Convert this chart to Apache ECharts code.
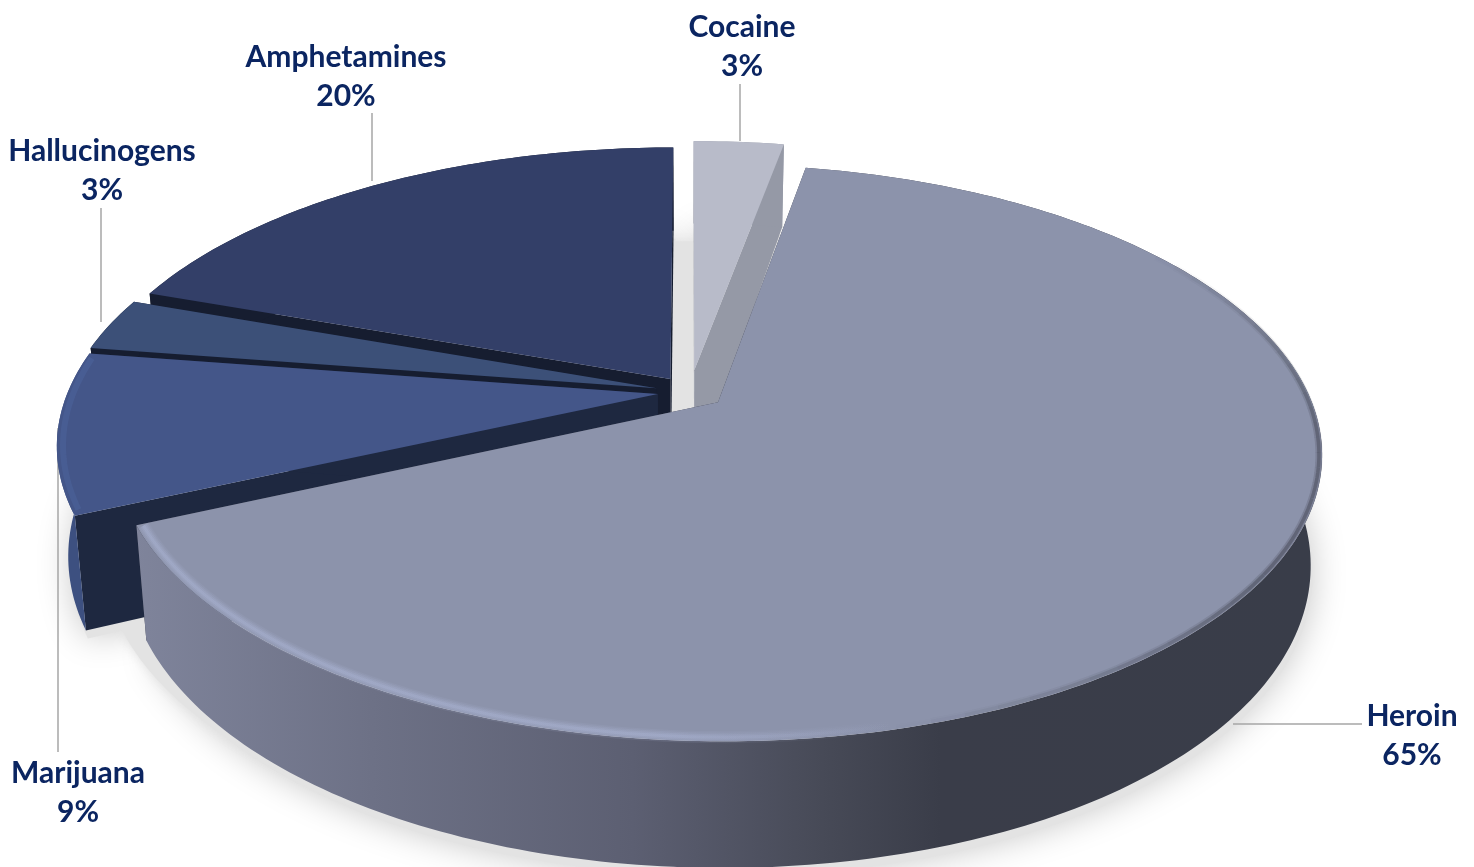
<!DOCTYPE html>
<html><head><meta charset="utf-8">
<style>html,body{margin:0;padding:0;background:#fff}#c{width:1474px;height:867px}</style>
<script src="https://cdn.jsdelivr.net/npm/echarts@6/dist/echarts.min.js"></script>
</head><body><div id="c"></div>
<script>
const categories = ['Cocaine','Heroin','Marijuana','Hallucinogens','Amphetamines'];
const values = [2.9,65.4,9.1,3,19.6];

// styling / layout (not data)
const topColors  = ['#b8bbc9','#8c93ab','#445689','#3c5078','#333f68'];
const cutColors  = ['#9599a6','#3a3d4a','#1e2840','#161d30','#161d30'];
const wallColors = ['#9599a6',null,'#3d5080','#161d30','#161d30'];
const explode    = [0.08,0.06,0.055,0.058,0.058];
const drawOrder  = [3,4,2,1,0];
const labelLayout = [
  {x:742,y:47,line:[[740,84],[740,141]]},
  {x:1412,y:736,line:[[1233,724],[1362,724]]},
  {x:78,y:793,line:[[58,428],[58,752]]},
  {x:102,y:171,line:[[101,208],[101,322]]},
  {x:346,y:77,line:[[372,113],[372,181]]}
];
const P = {cx:690,cy:392,R:590,b:276,k:0.174,s:0.018,dz0:106,dz1:26};
const total = values.reduce((a,b)=>a+b,0);
const starts = []; values.reduce((acc,v,i)=>{starts[i]=acc;return acc+v/total*360;},0);

function proj(x,y,z){
  const d=1-P.k*y, s=1-z*P.s;
  return [P.cx+s*P.R*x/d, P.cy+s*P.b*y/d+z*(P.dz0+P.dz1*y)];
}
const rad=a=>a*Math.PI/180;
function arc(off,a0,a1,z,r){
  const pts=[], n=Math.max(2,Math.ceil(Math.abs(a1-a0)));
  for(let i=0;i<=n;i++){
    const a=rad(a0+(a1-a0)*i/n);
    pts.push(proj(off[0]+r*Math.sin(a),off[1]-r*Math.cos(a),z));
  }
  return pts;
}
const heroinWall={type:'linear',x:135,y:0,x2:1320,y2:0,global:true,colorStops:[
  {offset:0,color:'#7f849b'},{offset:0.2,color:'#6d7186'},{offset:0.42,color:'#5c5f72'},
  {offset:0.58,color:'#474a57'},{offset:0.68,color:'#3a3d49'},{offset:1,color:'#393d49'}]};
const lightRim={type:'linear',x:135,y:0,x2:1320,y2:0,global:true,colorStops:[
  {offset:0,color:'rgba(169,178,210,1)'},{offset:0.45,color:'rgba(169,178,210,1)'},
  {offset:0.64,color:'rgba(169,178,210,0)'},{offset:1,color:'rgba(169,178,210,0)'}]};
const darkAlpha=a=>a<55?0:a<95?(a-55)/40:a<125?1:a<165?(165-a)/40:0;

function renderSlice(params,api){
  const i=params.dataIndex, v=api.value(0), a0=starts[i], a1=a0+v/total*360, mid=rad((a0+a1)/2);
  const d=explode[i], off=[d*Math.sin(mid),-d*Math.cos(mid)];
  const base=10+drawOrder[i]*10, kids=[];
  const poly=(points,fill,z2,extra)=>kids.push({type:'polygon',silent:true,z2,shape:{points},style:Object.assign({fill},extra||{})});
  const stroke=(points,color,w,op,z2)=>kids.push({type:'polyline',silent:true,z2,shape:{points},style:{stroke:color,lineWidth:w,fill:null,opacity:op,lineJoin:'round',lineCap:'butt'}});
  // ground shadow
  const sh=[proj(off[0],off[1],1)].concat(arc(off,a0,a1,1,1.0)).map(p=>[p[0]+2,p[1]+8]);
  poly(sh,'#e3e3e3',1,{shadowBlur:34,shadowColor:'#c9c9c9'});
  if(i===1){ poly(arc([0,0],0,360,1,1),'#e3e3e3',2,{shadowBlur:10,shadowColor:'#e3e3e3'}); }
  // cut faces
  const edge=(a)=>{
    const e0=arc(off,a,a,0,1)[0], e1=arc(off,a,a,1,1)[0];
    return [proj(off[0],off[1],0),e0,e1,proj(off[0],off[1],1)];
  };
  poly(edge(a0),cutColors[i],base);
  poly(edge(a1),cutColors[i],base);
  // outer wall
  const wallT=arc(off,a0,a1,0,1), wallB=arc(off,a0,a1,1,1).reverse();
  poly(wallT.concat(wallB),wallColors[i]||heroinWall,base+1);
  // top
  const top=[proj(off[0],off[1],0)].concat(arc(off,a0,a1,0,1));
  poly(top,topColors[i],base+2);
  // soft bevel
  if(i===1){
    const rim=arc(off,110,a1-0.3,0,0.99);
    stroke(rim,lightRim,12,0.12,base+3);
    stroke(rim,lightRim,9,0.18,base+3);
    stroke(rim,lightRim,6,0.25,base+4);
    stroke(rim,lightRim,3,0.35,base+4);
    for(let a=55;a<165;a+=3){
      const seg=arc(off,a,a+3,0,0.995), al=darkAlpha(a+1.5);
      stroke(seg,'#3a3d49',7,0.2*al,base+5);
      stroke(seg,'#3a3d49',3.5,0.4*al,base+5);
    }
  }
  if(i===2){
    stroke(arc(off,a0+1,a1-1,0,0.99),'#4f68a2',6,0.4,base+3);
  }
  // leader + label
  const L=labelLayout[i];
  kids.push({type:'polyline',silent:true,z2:i===2?3:200,shape:{points:L.line},style:{stroke:'#a6a6a6',lineWidth:1.5,fill:null}});
  kids.push({type:'text',silent:true,z2:210,x:L.x,y:L.y,style:{
    text:categories[i]+'\n'+Math.round(v)+'%',x:0,y:0,fill:'#0b2561',
    font:'bold 30px Lato, "Open Sans", sans-serif',
    textAlign:'center',textVerticalAlign:'middle',lineHeight:39}});
  return {type:'group',children:kids};
}

const chart=echarts.init(document.getElementById('c'),null,{renderer:'canvas',width:1474,height:867});
chart.setOption({
  animation:false,backgroundColor:'#ffffff',
  series:[{type:'custom',coordinateSystem:'none',renderItem:renderSlice,
    data:categories.map((name,i)=>({name,value:[values[i]]}))}]
});
</script></body></html>
